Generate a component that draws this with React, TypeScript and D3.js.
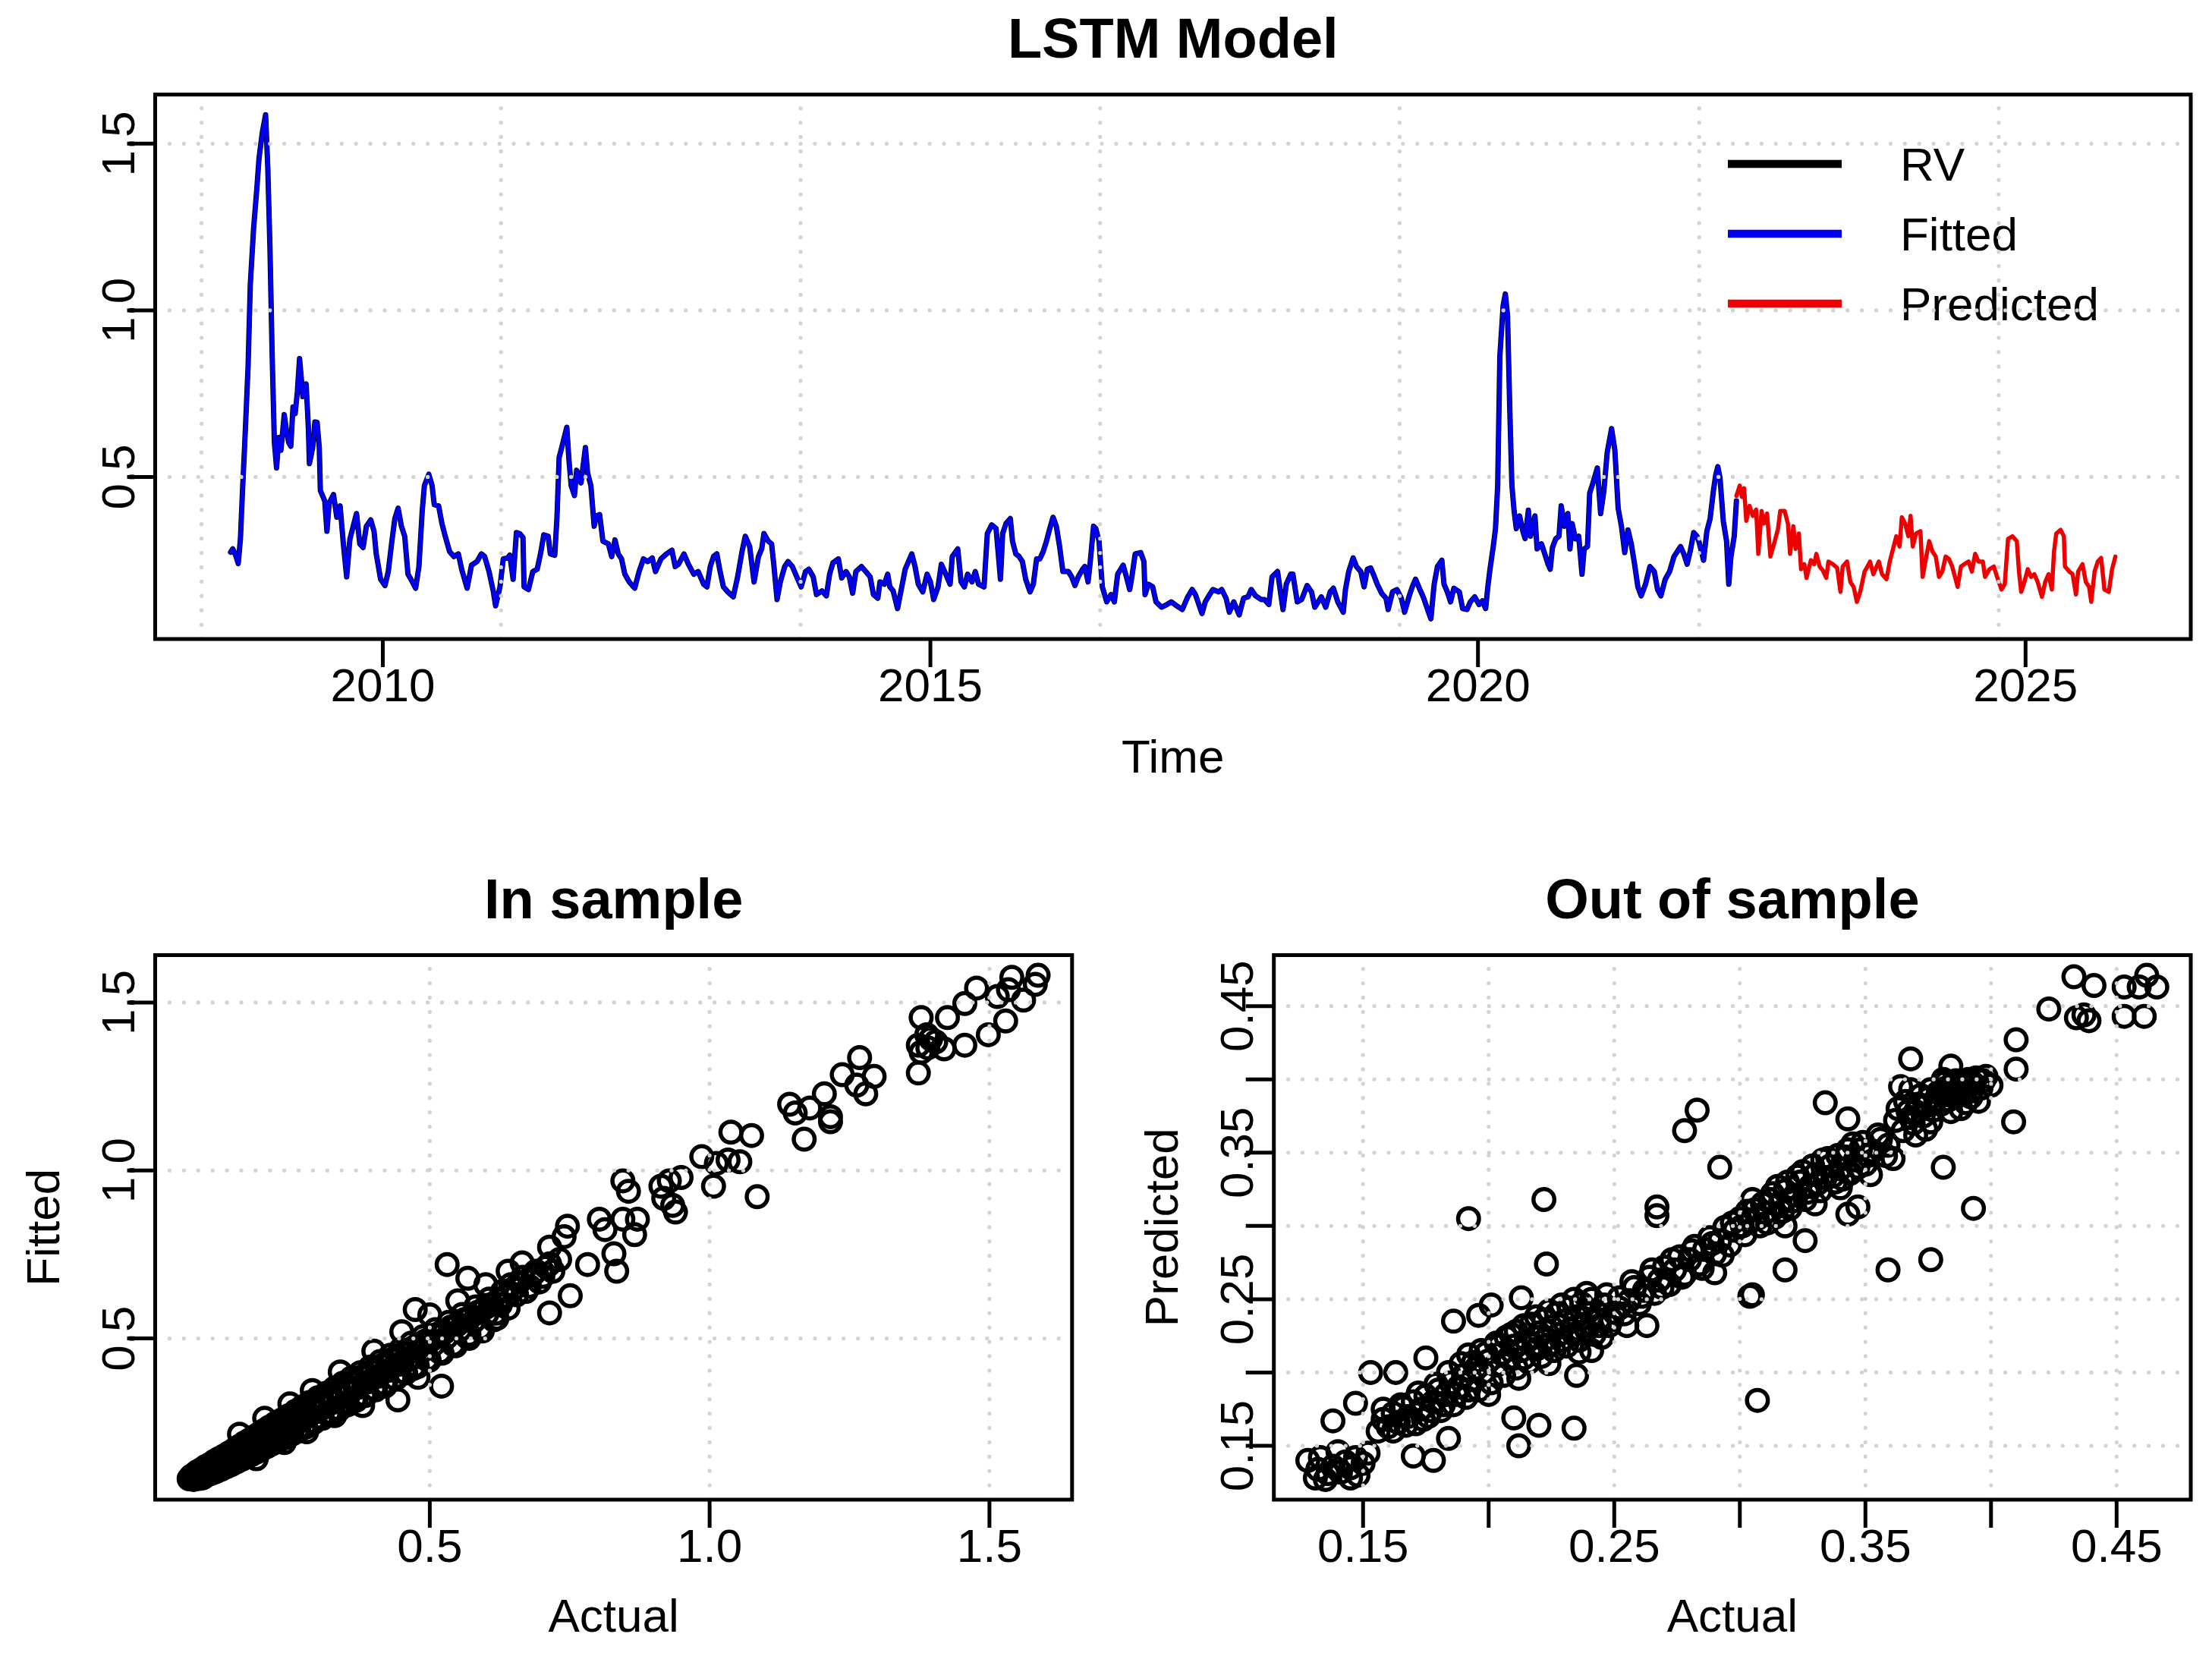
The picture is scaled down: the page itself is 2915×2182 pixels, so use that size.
import React from 'react';
import * as d3 from 'd3';

const FONT = '"Liberation Sans", Arial, Helvetica, sans-serif';
const W = 2915;
const H = 2182;

// ---- top panel: realised volatility path (decimal year, value) ----
const fittedTime = [
  2008.61, 2008.63, 2008.66, 2008.68, 2008.70, 2008.72, 2008.74, 2008.77, 2008.79, 2008.82,
  2008.85, 2008.87, 2008.90, 2008.93, 2008.95, 2008.97, 2008.99, 2009.01, 2009.03, 2009.05,
  2009.07, 2009.10, 2009.12, 2009.14, 2009.16, 2009.18, 2009.20, 2009.22, 2009.24, 2009.27,
  2009.30, 2009.32, 2009.33, 2009.36, 2009.38, 2009.40, 2009.42, 2009.43, 2009.47, 2009.49,
  2009.51, 2009.55, 2009.58, 2009.61, 2009.64, 2009.67, 2009.70, 2009.73, 2009.76, 2009.79,
  2009.82, 2009.85, 2009.89, 2009.92, 2009.94, 2009.98, 2010.02, 2010.05, 2010.08, 2010.11,
  2010.14, 2010.17, 2010.20, 2010.23, 2010.27, 2010.30, 2010.33, 2010.36, 2010.38, 2010.42,
  2010.45, 2010.47, 2010.51, 2010.54, 2010.57, 2010.61, 2010.65, 2010.69, 2010.72, 2010.77,
  2010.81, 2010.86, 2010.90, 2010.93, 2010.97, 2011.01, 2011.03, 2011.07, 2011.10, 2011.14,
  2011.16, 2011.19, 2011.22, 2011.25, 2011.28, 2011.29, 2011.33, 2011.37, 2011.41, 2011.44,
  2011.47, 2011.51, 2011.53, 2011.57, 2011.59, 2011.61, 2011.64, 2011.68, 2011.70, 2011.72,
  2011.75, 2011.77, 2011.81, 2011.85, 2011.87, 2011.90, 2011.93, 2011.95, 2011.98, 2012.01,
  2012.06, 2012.09, 2012.12, 2012.15, 2012.18, 2012.21, 2012.25, 2012.30, 2012.34, 2012.38,
  2012.42, 2012.46, 2012.49, 2012.54, 2012.59, 2012.64, 2012.67, 2012.70, 2012.75, 2012.79,
  2012.84, 2012.88, 2012.93, 2012.96, 2012.99, 2013.02, 2013.05, 2013.08, 2013.11, 2013.15,
  2013.20, 2013.24, 2013.28, 2013.31, 2013.35, 2013.39, 2013.43, 2013.46, 2013.48, 2013.52,
  2013.55, 2013.57, 2013.60, 2013.63, 2013.67, 2013.70, 2013.74, 2013.78, 2013.82, 2013.86,
  2013.89, 2013.93, 2013.96, 2014.01, 2014.05, 2014.08, 2014.11, 2014.16, 2014.19, 2014.23,
  2014.26, 2014.29, 2014.32, 2014.37, 2014.41, 2014.45, 2014.48, 2014.52, 2014.54, 2014.58,
  2014.61, 2014.63, 2014.66, 2014.70, 2014.73, 2014.77, 2014.80, 2014.83, 2014.86, 2014.89,
  2014.93, 2014.97, 2015.00, 2015.03, 2015.07, 2015.10, 2015.13, 2015.18, 2015.20, 2015.25,
  2015.28, 2015.31, 2015.34, 2015.38, 2015.41, 2015.44, 2015.49, 2015.52, 2015.56, 2015.60,
  2015.64, 2015.66, 2015.69, 2015.73, 2015.75, 2015.78, 2015.81, 2015.84, 2015.87, 2015.91,
  2015.94, 2015.97, 2016.00, 2016.03, 2016.06, 2016.09, 2016.12, 2016.15, 2016.18, 2016.21,
  2016.26, 2016.29, 2016.32, 2016.35, 2016.39, 2016.41, 2016.44, 2016.46, 2016.49, 2016.51,
  2016.54, 2016.57, 2016.61, 2016.65, 2016.68, 2016.71, 2016.76, 2016.79, 2016.82, 2016.84,
  2016.87, 2016.92, 2016.95, 2016.96, 2016.99, 2017.03, 2017.06, 2017.11, 2017.16, 2017.20,
  2017.25, 2017.30, 2017.35, 2017.39, 2017.42, 2017.48, 2017.51, 2017.55, 2017.58, 2017.63,
  2017.66, 2017.70, 2017.73, 2017.77, 2017.82, 2017.86, 2017.90, 2017.93, 2017.97, 2018.02,
  2018.05, 2018.09, 2018.12, 2018.17, 2018.22, 2018.25, 2018.29, 2018.31, 2018.35, 2018.39,
  2018.44, 2018.48, 2018.51, 2018.57, 2018.61, 2018.65, 2018.68, 2018.72, 2018.77, 2018.79,
  2018.82, 2018.86, 2018.89, 2018.93, 2018.96, 2018.99, 2019.02, 2019.05, 2019.08, 2019.12,
  2019.16, 2019.18, 2019.22, 2019.26, 2019.30, 2019.33, 2019.37, 2019.40, 2019.43, 2019.47,
  2019.50, 2019.54, 2019.57, 2019.60, 2019.63, 2019.67, 2019.69, 2019.72, 2019.75, 2019.78,
  2019.83, 2019.86, 2019.90, 2019.93, 2019.97, 2020.01, 2020.04, 2020.07, 2020.09, 2020.11,
  2020.14, 2020.16, 2020.18, 2020.20, 2020.23, 2020.25, 2020.27, 2020.29, 2020.31, 2020.33,
  2020.35, 2020.38, 2020.41, 2020.43, 2020.46, 2020.48, 2020.52, 2020.54, 2020.58, 2020.61,
  2020.64, 2020.66, 2020.68, 2020.71, 2020.74, 2020.76, 2020.79, 2020.82, 2020.84, 2020.86,
  2020.89, 2020.92, 2020.95, 2020.97, 2021.00, 2021.02, 2021.05, 2021.09, 2021.12, 2021.15,
  2021.18, 2021.22, 2021.25, 2021.28, 2021.31, 2021.34, 2021.37, 2021.40, 2021.43, 2021.46,
  2021.49, 2021.53, 2021.57, 2021.61, 2021.64, 2021.67, 2021.71, 2021.75, 2021.79, 2021.82,
  2021.85, 2021.88, 2021.91, 2021.94, 2021.97, 2022.00, 2022.02, 2022.06, 2022.09, 2022.12,
  2022.15, 2022.17, 2022.19, 2022.21, 2022.24, 2022.27, 2022.29, 2022.31, 2022.34, 2022.36,
];
const fittedRV = [
  0.274, 0.284, 0.262, 0.240, 0.314, 0.466, 0.604, 0.832, 1.076, 1.244,
  1.366, 1.457, 1.534, 1.587, 1.427, 1.183, 0.863, 0.604, 0.527, 0.618,
  0.580, 0.687, 0.640, 0.604, 0.592, 0.710, 0.690, 0.756, 0.855, 0.741,
  0.779, 0.650, 0.540, 0.588, 0.665, 0.664, 0.588, 0.459, 0.428, 0.337,
  0.421, 0.447, 0.379, 0.413, 0.299, 0.200, 0.314, 0.352, 0.390, 0.299,
  0.288, 0.352, 0.371, 0.337, 0.269, 0.193, 0.174, 0.216, 0.299, 0.375,
  0.406, 0.352, 0.322, 0.208, 0.185, 0.166, 0.231, 0.398, 0.474, 0.508,
  0.474, 0.417, 0.413, 0.360, 0.322, 0.276, 0.261, 0.269, 0.223, 0.166,
  0.235, 0.246, 0.269, 0.261, 0.216, 0.155, 0.113, 0.170, 0.254, 0.257,
  0.265, 0.193, 0.333, 0.330, 0.318, 0.170, 0.162, 0.216, 0.223, 0.269,
  0.326, 0.322, 0.269, 0.265, 0.375, 0.558, 0.596, 0.649, 0.550, 0.474,
  0.444, 0.520, 0.482, 0.588, 0.512, 0.474, 0.352, 0.383, 0.387, 0.307,
  0.299, 0.261, 0.311, 0.269, 0.254, 0.208, 0.185, 0.166, 0.216, 0.254,
  0.246, 0.257, 0.216, 0.254, 0.269, 0.280, 0.231, 0.238, 0.269, 0.238,
  0.208, 0.216, 0.178, 0.170, 0.231, 0.261, 0.269, 0.216, 0.170, 0.155,
  0.140, 0.200, 0.276, 0.322, 0.291, 0.185, 0.261, 0.284, 0.330, 0.307,
  0.299, 0.238, 0.132, 0.185, 0.231, 0.246, 0.231, 0.200, 0.170, 0.216,
  0.223, 0.200, 0.147, 0.158, 0.143, 0.208, 0.242, 0.254, 0.197, 0.216,
  0.200, 0.151, 0.216, 0.231, 0.216, 0.200, 0.147, 0.136, 0.185, 0.178,
  0.208, 0.170, 0.158, 0.105, 0.155, 0.223, 0.246, 0.269, 0.231, 0.178,
  0.155, 0.208, 0.185, 0.132, 0.170, 0.238, 0.216, 0.178, 0.261, 0.284,
  0.185, 0.170, 0.208, 0.185, 0.216, 0.178, 0.170, 0.330, 0.356, 0.345,
  0.193, 0.330, 0.360, 0.375, 0.307, 0.269, 0.261, 0.246, 0.193, 0.155,
  0.178, 0.254, 0.254, 0.276, 0.307, 0.345, 0.379, 0.352, 0.291, 0.216,
  0.216, 0.200, 0.174, 0.200, 0.223, 0.231, 0.185, 0.246, 0.352, 0.345,
  0.307, 0.170, 0.125, 0.147, 0.125, 0.208, 0.235, 0.200, 0.162, 0.200,
  0.269, 0.273, 0.246, 0.147, 0.178, 0.170, 0.125, 0.109, 0.117, 0.125,
  0.113, 0.102, 0.140, 0.162, 0.147, 0.090, 0.125, 0.147, 0.162, 0.155,
  0.162, 0.136, 0.094, 0.125, 0.086, 0.136, 0.140, 0.162, 0.143, 0.132,
  0.132, 0.117, 0.200, 0.216, 0.102, 0.178, 0.208, 0.208, 0.125, 0.132,
  0.174, 0.155, 0.109, 0.140, 0.109, 0.155, 0.166, 0.125, 0.094, 0.162,
  0.216, 0.257, 0.231, 0.216, 0.170, 0.223, 0.227, 0.204, 0.178, 0.151,
  0.136, 0.102, 0.155, 0.162, 0.136, 0.094, 0.140, 0.170, 0.193, 0.162,
  0.140, 0.102, 0.074, 0.178, 0.231, 0.250, 0.178, 0.155, 0.125, 0.166,
  0.155, 0.105, 0.102, 0.125, 0.140, 0.117, 0.128, 0.105, 0.170, 0.223,
  0.292, 0.345, 0.474, 0.863, 1.015, 1.049, 0.985, 0.710, 0.474, 0.398,
  0.345, 0.383, 0.337, 0.315, 0.400, 0.322, 0.383, 0.284, 0.299, 0.269,
  0.238, 0.223, 0.288, 0.314, 0.322, 0.413, 0.352, 0.390, 0.284, 0.360,
  0.314, 0.322, 0.208, 0.284, 0.291, 0.451, 0.482, 0.527, 0.390, 0.459,
  0.573, 0.645, 0.580, 0.406, 0.352, 0.273, 0.341, 0.299, 0.238, 0.170,
  0.143, 0.178, 0.231, 0.216, 0.162, 0.143, 0.193, 0.216, 0.261, 0.276,
  0.291, 0.269, 0.238, 0.280, 0.333, 0.322, 0.303, 0.250, 0.337, 0.375,
  0.459, 0.504, 0.531, 0.497, 0.368, 0.307, 0.178, 0.261, 0.322, 0.428,
];
const predTime = [
  2022.36, 2022.39, 2022.41, 2022.43, 2022.45, 2022.48, 2022.51, 2022.54, 2022.56, 2022.59,
  2022.61, 2022.64, 2022.67, 2022.71, 2022.74, 2022.76, 2022.80, 2022.83, 2022.85, 2022.88,
  2022.90, 2022.93, 2022.95, 2022.98, 2023.00, 2023.04, 2023.07, 2023.09, 2023.12, 2023.15,
  2023.18, 2023.20, 2023.24, 2023.28, 2023.31, 2023.33, 2023.37, 2023.40, 2023.43, 2023.46,
  2023.49, 2023.53, 2023.55, 2023.58, 2023.61, 2023.66, 2023.69, 2023.73, 2023.76, 2023.79,
  2023.82, 2023.85, 2023.87, 2023.90, 2023.93, 2023.95, 2023.97, 2024.00, 2024.04, 2024.06,
  2024.09, 2024.12, 2024.15, 2024.18, 2024.21, 2024.24, 2024.27, 2024.30, 2024.33, 2024.38,
  2024.41, 2024.44, 2024.48, 2024.51, 2024.54, 2024.57, 2024.61, 2024.63, 2024.67, 2024.71,
  2024.74, 2024.78, 2024.81, 2024.84, 2024.88, 2024.92, 2024.94, 2024.96, 2024.99, 2025.02,
  2025.05, 2025.08, 2025.11, 2025.15, 2025.18, 2025.21, 2025.24, 2025.26, 2025.28, 2025.32,
  2025.35, 2025.36, 2025.40, 2025.43, 2025.46, 2025.48, 2025.52, 2025.55, 2025.58, 2025.60,
  2025.63, 2025.66, 2025.69, 2025.72, 2025.76, 2025.79, 2025.82,
];
const predRV = [
  0.443, 0.474, 0.440, 0.466, 0.368, 0.413, 0.383, 0.402, 0.269, 0.398,
  0.360, 0.390, 0.261, 0.307, 0.345, 0.398, 0.398, 0.360, 0.269, 0.352,
  0.284, 0.330, 0.223, 0.238, 0.197, 0.250, 0.238, 0.269, 0.231, 0.219,
  0.197, 0.246, 0.238, 0.227, 0.155, 0.231, 0.246, 0.185, 0.170, 0.125,
  0.155, 0.216, 0.227, 0.246, 0.208, 0.246, 0.208, 0.193, 0.246, 0.284,
  0.322, 0.291, 0.379, 0.360, 0.322, 0.383, 0.291, 0.330, 0.337, 0.200,
  0.254, 0.307, 0.276, 0.261, 0.200, 0.216, 0.261, 0.254, 0.231, 0.170,
  0.231, 0.238, 0.246, 0.216, 0.269, 0.246, 0.246, 0.200, 0.223, 0.231,
  0.200, 0.162, 0.178, 0.314, 0.322, 0.307, 0.216, 0.155, 0.185, 0.223,
  0.200, 0.208, 0.185, 0.140, 0.185, 0.208, 0.162, 0.276, 0.330, 0.341,
  0.322, 0.231, 0.216, 0.208, 0.147, 0.216, 0.238, 0.185, 0.170, 0.125,
  0.216, 0.246, 0.257, 0.162, 0.155, 0.223, 0.261,
];
const timeTicks = [2010, 2015, 2020, 2025];
const timeGrid = [2008.345, 2011.08, 2013.815, 2016.55, 2019.285, 2022.02, 2024.755];
const rvTicks = [0.5, 1.0, 1.5];
const rvTickLabels = ['0.5', '1.0', '1.5'];
const legendLabels = ['RV', 'Fitted', 'Predicted'];
const legendColors = ['#000000', '#0000ee', '#ee0000'];

// ---- in sample scatter: [actual, fitted] ----
const inSample: [number, number][] = [
  [0.070, 0.082], [0.074, 0.090], [0.078, 0.080], [0.081, 0.097], [0.084, 0.086], [0.086, 0.104],
  [0.089, 0.092], [0.092, 0.110], [0.094, 0.085], [0.097, 0.099], [0.099, 0.118], [0.102, 0.094],
  [0.104, 0.108], [0.107, 0.125], [0.110, 0.101], [0.112, 0.116], [0.115, 0.134], [0.118, 0.108],
  [0.120, 0.124], [0.123, 0.142], [0.126, 0.114], [0.129, 0.131], [0.132, 0.150], [0.135, 0.121],
  [0.138, 0.140], [0.141, 0.159], [0.144, 0.128], [0.147, 0.148], [0.150, 0.168], [0.153, 0.136],
  [0.156, 0.156], [0.159, 0.178], [0.162, 0.143], [0.165, 0.165], [0.168, 0.188], [0.171, 0.150],
  [0.174, 0.174], [0.177, 0.197], [0.180, 0.158], [0.183, 0.183], [0.186, 0.207], [0.189, 0.166],
  [0.192, 0.192], [0.195, 0.216], [0.198, 0.173], [0.201, 0.201], [0.204, 0.226], [0.207, 0.181],
  [0.210, 0.211], [0.213, 0.236], [0.216, 0.189], [0.220, 0.221], [0.224, 0.247], [0.228, 0.198],
  [0.232, 0.232], [0.236, 0.258], [0.240, 0.208], [0.244, 0.244], [0.248, 0.270], [0.252, 0.218],
  [0.256, 0.256], [0.260, 0.283], [0.264, 0.229], [0.268, 0.268], [0.272, 0.296], [0.276, 0.240],
  [0.280, 0.281], [0.285, 0.309], [0.290, 0.252], [0.295, 0.295], [0.300, 0.323], [0.305, 0.265],
  [0.310, 0.309], [0.315, 0.337], [0.320, 0.278], [0.325, 0.323], [0.330, 0.352], [0.335, 0.291],
  [0.340, 0.338], [0.345, 0.367], [0.350, 0.305], [0.355, 0.352], [0.360, 0.382], [0.365, 0.318],
  [0.370, 0.367], [0.376, 0.398], [0.382, 0.333], [0.388, 0.384], [0.394, 0.415], [0.400, 0.350],
  [0.406, 0.402], [0.412, 0.432], [0.418, 0.366], [0.424, 0.419], [0.430, 0.450], [0.436, 0.383],
  [0.442, 0.437], [0.448, 0.467], [0.454, 0.400], [0.460, 0.455], [0.467, 0.486], [0.474, 0.419],
  [0.481, 0.474], [0.488, 0.505], [0.495, 0.438], [0.502, 0.495], [0.510, 0.526], [0.518, 0.459],
  [0.526, 0.518], [0.534, 0.548], [0.542, 0.482], [0.550, 0.542], [0.558, 0.571], [0.566, 0.506],
  [0.574, 0.566], [0.582, 0.594], [0.590, 0.530], [0.598, 0.590], [0.606, 0.617], [0.614, 0.555],
  [0.622, 0.614], [0.630, 0.640], [0.640, 0.590], [0.650, 0.648], [0.660, 0.668], [0.672, 0.640],
  [0.684, 0.690], [0.696, 0.668], [0.708, 0.712], [0.720, 0.700], [0.732, 0.735],
  [0.080, 0.088], [0.083, 0.101], [0.088, 0.083], [0.091, 0.097], [0.095, 0.112], [0.098, 0.090],
  [0.101, 0.104], [0.105, 0.120], [0.108, 0.097], [0.111, 0.110], [0.114, 0.127], [0.117, 0.103],
  [0.121, 0.117], [0.124, 0.135], [0.127, 0.110], [0.130, 0.125], [0.134, 0.144], [0.137, 0.118],
  [0.140, 0.132], [0.143, 0.152], [0.146, 0.125], [0.149, 0.140], [0.152, 0.160], [0.155, 0.133],
  [0.158, 0.148], [0.161, 0.169], [0.164, 0.140], [0.167, 0.156], [0.170, 0.178], [0.173, 0.147],
  [0.176, 0.164], [0.179, 0.187], [0.182, 0.155], [0.185, 0.172], [0.188, 0.196], [0.191, 0.162],
  [0.194, 0.180], [0.197, 0.205], [0.200, 0.170], [0.203, 0.190], [0.206, 0.215], [0.209, 0.178],
  [0.212, 0.199], [0.215, 0.224], [0.218, 0.186], [0.222, 0.208], [0.226, 0.236], [0.230, 0.195],
  [0.234, 0.220], [0.238, 0.247], [0.242, 0.205], [0.246, 0.231], [0.250, 0.259], [0.254, 0.215],
  [0.258, 0.243], [0.262, 0.272], [0.266, 0.225], [0.270, 0.255], [0.274, 0.284], [0.278, 0.236],
  [0.283, 0.268], [0.288, 0.298], [0.293, 0.250], [0.298, 0.282], [0.303, 0.312], [0.308, 0.262],
  [0.313, 0.296], [0.318, 0.326], [0.323, 0.275], [0.328, 0.310], [0.333, 0.341], [0.338, 0.288],
  [0.343, 0.325], [0.348, 0.356], [0.353, 0.302], [0.358, 0.340], [0.363, 0.371], [0.368, 0.315],
  [0.373, 0.355], [0.379, 0.386], [0.385, 0.330], [0.391, 0.371], [0.397, 0.403], [0.403, 0.347],
  [0.409, 0.388], [0.415, 0.420], [0.421, 0.363], [0.427, 0.405], [0.433, 0.438], [0.439, 0.380],
  [0.445, 0.423], [0.451, 0.455], [0.457, 0.397], [0.464, 0.442], [0.471, 0.473], [0.478, 0.416],
  [0.485, 0.461], [0.492, 0.492], [0.499, 0.435], [0.506, 0.481], [0.514, 0.512], [0.522, 0.456],
  [0.530, 0.503], [0.538, 0.534], [0.546, 0.478], [0.554, 0.526], [0.562, 0.556], [0.570, 0.500],
  [0.578, 0.550], [0.586, 0.578], [0.594, 0.522], [0.602, 0.573], [0.610, 0.600], [0.618, 0.575],
  [0.626, 0.600], [0.636, 0.625], [0.645, 0.660], [0.655, 0.630], [0.666, 0.682], [0.678, 0.655],
  [0.690, 0.700], [0.702, 0.685], [0.714, 0.722],
  [0.160, 0.215], [0.205, 0.262], [0.250, 0.305], [0.290, 0.345], [0.340, 0.400], [0.400, 0.462],
  [0.450, 0.520], [0.500, 0.570], [0.550, 0.612], [0.600, 0.660], [0.640, 0.700], [0.665, 0.725],
  [0.190, 0.142], [0.240, 0.190], [0.280, 0.222], [0.330, 0.270], [0.380, 0.300], [0.420, 0.358],
  [0.470, 0.410], [0.520, 0.460], [0.570, 0.512], [0.620, 0.560],
  [1.587, 1.581], [1.540, 1.575], [1.582, 1.554], [1.534, 1.538], [1.477, 1.543], [1.514, 1.518],
  [1.561, 1.507], [1.456, 1.497], [1.425, 1.455], [1.378, 1.455], [1.529, 1.445], [1.498, 1.404],
  [1.388, 1.404], [1.373, 1.373], [1.404, 1.383], [1.378, 1.352], [1.419, 1.362], [1.456, 1.373],
  [1.390, 1.365], [1.395, 1.392], [1.373, 1.290], [1.268, 1.336], [1.237, 1.285], [1.294, 1.280],
  [1.263, 1.254], [1.279, 1.228], [1.205, 1.228], [1.143, 1.197], [1.153, 1.171], [1.179, 1.186],
  [1.216, 1.160], [1.216, 1.145], [1.169, 1.093], [1.038, 1.114], [1.075, 1.104], [0.986, 1.041],
  [1.033, 1.031], [1.012, 1.021], [1.054, 1.026], [1.085, 0.922], [1.007, 0.953], [0.928, 0.969],
  [0.949, 0.979], [0.913, 0.953], [0.845, 0.969], [0.855, 0.938], [0.918, 0.917], [0.939, 0.876],
  [0.934, 0.896], [0.803, 0.855], [0.845, 0.855], [0.871, 0.855], [0.813, 0.824], [0.866, 0.809],
  [0.746, 0.834], [0.740, 0.803], [0.714, 0.772], [0.829, 0.752], [0.782, 0.720], [0.834, 0.700],
  [0.531, 0.720], [0.568, 0.679], [0.751, 0.627], [0.714, 0.576], [0.474, 0.586], [0.479, 0.384],
  [0.521, 0.358], [0.443, 0.317],
];

// ---- out of sample scatter: [actual, predicted] ----
const outSample: [number, number][] = [
  [0.128, 0.140], [0.131, 0.128], [0.135, 0.127], [0.145, 0.128], [0.132, 0.134], [0.136, 0.131],
  [0.138, 0.136], [0.141, 0.132], [0.143, 0.139], [0.145, 0.135], [0.147, 0.142], [0.150, 0.138],
  [0.152, 0.145], [0.133, 0.142], [0.140, 0.146], [0.148, 0.130],
  [0.156, 0.160], [0.158, 0.168], [0.160, 0.163], [0.162, 0.172], [0.164, 0.166], [0.166, 0.176],
  [0.168, 0.170], [0.170, 0.180], [0.171, 0.165], [0.173, 0.175], [0.175, 0.184], [0.176, 0.170],
  [0.178, 0.180], [0.180, 0.188], [0.181, 0.174], [0.183, 0.185], [0.185, 0.193], [0.186, 0.178],
  [0.188, 0.190], [0.190, 0.198], [0.191, 0.183], [0.193, 0.195], [0.195, 0.203], [0.196, 0.188],
  [0.198, 0.200], [0.200, 0.208], [0.201, 0.193], [0.203, 0.205], [0.205, 0.213], [0.206, 0.198],
  [0.208, 0.210], [0.210, 0.218], [0.211, 0.203], [0.213, 0.215], [0.215, 0.222], [0.216, 0.207],
  [0.218, 0.219], [0.220, 0.227], [0.221, 0.211], [0.223, 0.223], [0.225, 0.231], [0.226, 0.215],
  [0.228, 0.226], [0.230, 0.235], [0.231, 0.218], [0.233, 0.229], [0.235, 0.238], [0.236, 0.222],
  [0.238, 0.232], [0.240, 0.242], [0.242, 0.226], [0.244, 0.236], [0.246, 0.246], [0.248, 0.232],
  [0.250, 0.241], [0.252, 0.251], [0.254, 0.240], [0.256, 0.249], [0.258, 0.258], [0.260, 0.247],
  [0.262, 0.256], [0.264, 0.265], [0.266, 0.254], [0.268, 0.263], [0.270, 0.272], [0.272, 0.260],
  [0.274, 0.270], [0.276, 0.279], [0.278, 0.267], [0.280, 0.277], [0.282, 0.286], [0.284, 0.274],
  [0.286, 0.284], [0.288, 0.292], [0.290, 0.281], [0.292, 0.290], [0.294, 0.299], [0.296, 0.287],
  [0.298, 0.297], [0.300, 0.305], [0.302, 0.294], [0.304, 0.303], [0.306, 0.311], [0.308, 0.300],
  [0.310, 0.309], [0.312, 0.318], [0.314, 0.306], [0.316, 0.315], [0.318, 0.324], [0.320, 0.312],
  [0.322, 0.321], [0.324, 0.330], [0.326, 0.318], [0.328, 0.327], [0.330, 0.335], [0.332, 0.324],
  [0.334, 0.333], [0.336, 0.341], [0.338, 0.330], [0.340, 0.339], [0.342, 0.347], [0.344, 0.336],
  [0.346, 0.345], [0.348, 0.352], [0.350, 0.342], [0.353, 0.351], [0.356, 0.359], [0.358, 0.348],
  [0.362, 0.372], [0.365, 0.365], [0.367, 0.378], [0.369, 0.370], [0.371, 0.383], [0.373, 0.375],
  [0.375, 0.387], [0.377, 0.379], [0.379, 0.391], [0.380, 0.383], [0.382, 0.394], [0.383, 0.386],
  [0.385, 0.396], [0.386, 0.388], [0.388, 0.398], [0.389, 0.390], [0.391, 0.400], [0.392, 0.392],
  [0.394, 0.401], [0.396, 0.394], [0.398, 0.402], [0.400, 0.396], [0.384, 0.378], [0.376, 0.371],
  [0.390, 0.384], [0.372, 0.389], [0.395, 0.385], [0.370, 0.362], [0.381, 0.400], [0.366, 0.385],
  [0.192, 0.212], [0.197, 0.215], [0.203, 0.220], [0.209, 0.226], [0.214, 0.232], [0.219, 0.238],
  [0.224, 0.242], [0.229, 0.246], [0.234, 0.250], [0.239, 0.254], [0.200, 0.185], [0.212, 0.196],
  [0.224, 0.206], [0.236, 0.214], [0.245, 0.224], [0.255, 0.232], [0.305, 0.318], [0.315, 0.327],
  [0.325, 0.337], [0.335, 0.346], [0.345, 0.356], [0.318, 0.300], [0.330, 0.315], [0.340, 0.326],
  [0.352, 0.335],
  [0.165, 0.178], [0.172, 0.186], [0.179, 0.192], [0.184, 0.200], [0.189, 0.206], [0.194, 0.207],
  [0.199, 0.213], [0.204, 0.218], [0.207, 0.224], [0.211, 0.228], [0.214, 0.210], [0.217, 0.233],
  [0.219, 0.216], [0.222, 0.236], [0.224, 0.219], [0.227, 0.240], [0.229, 0.222], [0.232, 0.244],
  [0.234, 0.226], [0.237, 0.247], [0.239, 0.229], [0.241, 0.250], [0.244, 0.232], [0.247, 0.253],
  [0.249, 0.236], [0.252, 0.244], [0.257, 0.262], [0.261, 0.252], [0.265, 0.270], [0.269, 0.258],
  [0.273, 0.277], [0.277, 0.265], [0.281, 0.283], [0.285, 0.271], [0.289, 0.288], [0.293, 0.280],
  [0.297, 0.302], [0.301, 0.300], [0.303, 0.310], [0.307, 0.305], [0.309, 0.315], [0.311, 0.302],
  [0.313, 0.322], [0.317, 0.310], [0.319, 0.330], [0.321, 0.317], [0.323, 0.334], [0.327, 0.323],
  [0.329, 0.341], [0.331, 0.329], [0.333, 0.345], [0.337, 0.334], [0.339, 0.348], [0.341, 0.332],
  [0.343, 0.352], [0.347, 0.340], [0.349, 0.357], [0.351, 0.348], [0.355, 0.362], [0.359, 0.355],
  [0.363, 0.380], [0.368, 0.374], [0.374, 0.382], [0.378, 0.386], [0.381, 0.392], [0.384, 0.389],
  [0.387, 0.393], [0.390, 0.396], [0.393, 0.397], [0.397, 0.399], [0.376, 0.393], [0.382, 0.398],
  [0.386, 0.399], [0.370, 0.378], [0.374, 0.366], [0.388, 0.380], [0.392, 0.388], [0.368, 0.393],
  [0.158, 0.175], [0.162, 0.160], [0.167, 0.164], [0.174, 0.168], [0.177, 0.174], [0.182, 0.178],
  [0.187, 0.185], [0.192, 0.188],
  [0.462, 0.471], [0.433, 0.470], [0.441, 0.464], [0.453, 0.463], [0.459, 0.463], [0.466, 0.463],
  [0.423, 0.448], [0.434, 0.442], [0.439, 0.440], [0.453, 0.443], [0.461, 0.443], [0.437, 0.444],
  [0.410, 0.427], [0.410, 0.407], [0.368, 0.414], [0.384, 0.409], [0.364, 0.395], [0.409, 0.371],
  [0.381, 0.340], [0.393, 0.312], [0.334, 0.384], [0.343, 0.373], [0.283, 0.379], [0.278, 0.365],
  [0.292, 0.340], [0.222, 0.318], [0.192, 0.305], [0.223, 0.274], [0.267, 0.313], [0.267, 0.307],
  [0.326, 0.290], [0.318, 0.270], [0.359, 0.270], [0.376, 0.277], [0.305, 0.253], [0.304, 0.252],
  [0.307, 0.181], [0.290, 0.268], [0.361, 0.346], [0.347, 0.313], [0.343, 0.308], [0.153, 0.200],
  [0.163, 0.200], [0.138, 0.167], [0.147, 0.179], [0.175, 0.210], [0.186, 0.235], [0.196, 0.239],
  [0.201, 0.246], [0.213, 0.251], [0.220, 0.164], [0.234, 0.162], [0.212, 0.150], [0.210, 0.169],
  [0.178, 0.140], [0.235, 0.198], [0.263, 0.232], [0.241, 0.215], [0.184, 0.155], [0.170, 0.143],
];
const inTicks = [0.5, 1.0, 1.5];
const inTickLabels = ['0.5', '1.0', '1.5'];
const outTicks = [0.15, 0.2, 0.25, 0.3, 0.35, 0.4, 0.45];
const outTickLabels = ['0.15', '', '0.25', '', '0.35', '', '0.45'];

// panel boxes in page pixels
const TOP = { left: 204.5, right: 2887, top: 124.6, bottom: 842 };
const BL = { left: 204.5, right: 1412.8, top: 1258.5, bottom: 1976 };
const BR = { left: 1678.7, right: 2887, top: 1258.5, bottom: 1976 };

const TICK_LEN = 37;
const LWD = 5;
const PT_R = 13.75;
const PT_LWD = 5.5;
const GRID = { stroke: '#d3d3d3', strokeWidth: 5.2, strokeDasharray: '0.1 18.8', strokeLinecap: 'round' as const };

// R-style axis range: data extent widened by 4% on each side
function rRange(v: number[]): [number, number] {
  const [lo, hi] = d3.extent(v) as [number, number];
  const pad = (hi - lo) * 0.04;
  return [lo - pad, hi + pad];
}

type Box = typeof TOP;
type Scale = d3.ScaleLinear<number, number>;

function Grid({ box, x, y, xs, ys }: { box: Box; x: Scale; y: Scale; xs: number[]; ys: number[] }) {
  return (
    <g {...GRID} fill="none">
      {xs.map((v, i) => (
        <line key={'v' + i} x1={x(v)} x2={x(v)} y1={box.bottom} y2={box.top} />
      ))}
      {ys.map((v, i) => (
        <line key={'h' + i} x1={box.left} x2={box.right} y1={y(v)} y2={y(v)} />
      ))}
    </g>
  );
}

function Axes({ box, x, y, xt, xl, yt, yl }: {
  box: Box; x: Scale; y: Scale; xt: number[]; xl: string[]; yt: number[]; yl: string[];
}) {
  return (
    <g>
      <rect x={box.left} y={box.top} width={box.right - box.left} height={box.bottom - box.top}
        fill="none" stroke="#000" strokeWidth={LWD} />
      {xt.map((v, i) => (
        <g key={'x' + i}>
          <line x1={x(v)} x2={x(v)} y1={box.bottom} y2={box.bottom + TICK_LEN} stroke="#000" strokeWidth={LWD} />
          {xl[i] && (
            <text x={x(v)} y={box.bottom + 82} textAnchor="middle" fontSize={62}>{xl[i]}</text>
          )}
        </g>
      ))}
      {yt.map((v, i) => (
        <g key={'y' + i}>
          <line x1={box.left - TICK_LEN} x2={box.left} y1={y(v)} y2={y(v)} stroke="#000" strokeWidth={LWD} />
          {yl[i] && (
            <text transform={`translate(${box.left - 27.5},${y(v)}) rotate(-90)`} textAnchor="middle" fontSize={62}>
              {yl[i]}
            </text>
          )}
        </g>
      ))}
    </g>
  );
}

export default function App() {
  const xT = d3.scaleLinear().domain(rRange([...fittedTime, ...predTime])).range([TOP.left, TOP.right]);
  const yT = d3.scaleLinear().domain(rRange([...fittedRV, ...predRV])).range([TOP.bottom, TOP.top]);

  const xIn = d3.scaleLinear().domain(rRange(inSample.map(d => d[0]))).range([BL.left, BL.right]);
  const yIn = d3.scaleLinear().domain(rRange(inSample.map(d => d[1]))).range([BL.bottom, BL.top]);
  const xOut = d3.scaleLinear().domain(rRange(outSample.map(d => d[0]))).range([BR.left, BR.right]);
  const yOut = d3.scaleLinear().domain(rRange(outSample.map(d => d[1]))).range([BR.bottom, BR.top]);

  const path = (t: number[], v: number[]) =>
    d3.line<number>().x(i => xT(t[i])).y(i => yT(v[i]))(d3.range(t.length)) || '';

  const topMid = (TOP.left + TOP.right) / 2;
  const blMid = (BL.left + BL.right) / 2;
  const brMid = (BR.left + BR.right) / 2;
  const botMid = (BL.top + BL.bottom) / 2;

  const legendX = 2277;
  const legendY0 = 216;
  const legendStep = 92;

  return (
    <div style={{ position: 'absolute', left: 0, top: 0, background: '#fff' }}>
      <svg width={W} height={H} viewBox={`0 0 ${W} ${H}`} fontFamily={FONT} style={{ display: 'block' }}>
        <rect width={W} height={H} fill="#fff" />

        {/* ---- top panel ---- */}
        <text x={topMid} y={76} textAnchor="middle" fontSize={74} fontWeight="bold">LSTM Model</text>
        <g fill="none" strokeWidth={5.5} strokeLinejoin="round" strokeLinecap="round">
          <path d={path(fittedTime, fittedRV)} stroke="#000" strokeWidth={7} />
          <path d={path(fittedTime, fittedRV)} stroke={legendColors[1]} />
          <path d={path(predTime, predRV)} stroke={legendColors[2]} />
        </g>
        {legendLabels.map((lab, i) => (
          <g key={lab}>
            <line x1={legendX} x2={legendX + 150} y1={legendY0 + i * legendStep} y2={legendY0 + i * legendStep}
              stroke={legendColors[i]} strokeWidth={10.7} />
            <text x={legendX + 227} y={legendY0 + i * legendStep + 22} fontSize={62}>{lab}</text>
          </g>
        ))}
        <Grid box={TOP} x={xT} y={yT} xs={timeGrid} ys={rvTicks} />
        <Axes box={TOP} x={xT} y={yT} xt={timeTicks} xl={timeTicks.map(String)} yt={rvTicks} yl={rvTickLabels} />
        <text x={topMid} y={TOP.bottom + 176} textAnchor="middle" fontSize={62}>Time</text>

        {/* ---- in sample ---- */}
        <text x={blMid} y={BL.top - 48.6} textAnchor="middle" fontSize={74} fontWeight="bold">In sample</text>
        <g fill="none" stroke="#000" strokeWidth={PT_LWD}>
          {inSample.map((d, i) => (
            <circle key={i} cx={xIn(d[0])} cy={yIn(d[1])} r={PT_R} />
          ))}
        </g>
        <Grid box={BL} x={xIn} y={yIn} xs={inTicks} ys={inTicks} />
        <Axes box={BL} x={xIn} y={yIn} xt={inTicks} xl={inTickLabels} yt={inTicks} yl={inTickLabels} />
        <text x={blMid} y={BL.bottom + 174} textAnchor="middle" fontSize={62}>Actual</text>
        <text transform={`translate(${BL.left - 126.5},${botMid}) rotate(-90)`} textAnchor="middle" fontSize={62}>Fitted</text>

        {/* ---- out of sample ---- */}
        <text x={brMid} y={BR.top - 48.6} textAnchor="middle" fontSize={74} fontWeight="bold">Out of sample</text>
        <g fill="none" stroke="#000" strokeWidth={PT_LWD}>
          {outSample.map((d, i) => (
            <circle key={i} cx={xOut(d[0])} cy={yOut(d[1])} r={PT_R} />
          ))}
        </g>
        <Grid box={BR} x={xOut} y={yOut} xs={outTicks} ys={outTicks} />
        <Axes box={BR} x={xOut} y={yOut} xt={outTicks} xl={outTickLabels} yt={outTicks} yl={outTickLabels} />
        <text x={brMid} y={BR.bottom + 174} textAnchor="middle" fontSize={62}>Actual</text>
        <text transform={`translate(${BR.left - 126.5},${botMid}) rotate(-90)`} textAnchor="middle" fontSize={62}>Predicted</text>
      </svg>
    </div>
  );
}
